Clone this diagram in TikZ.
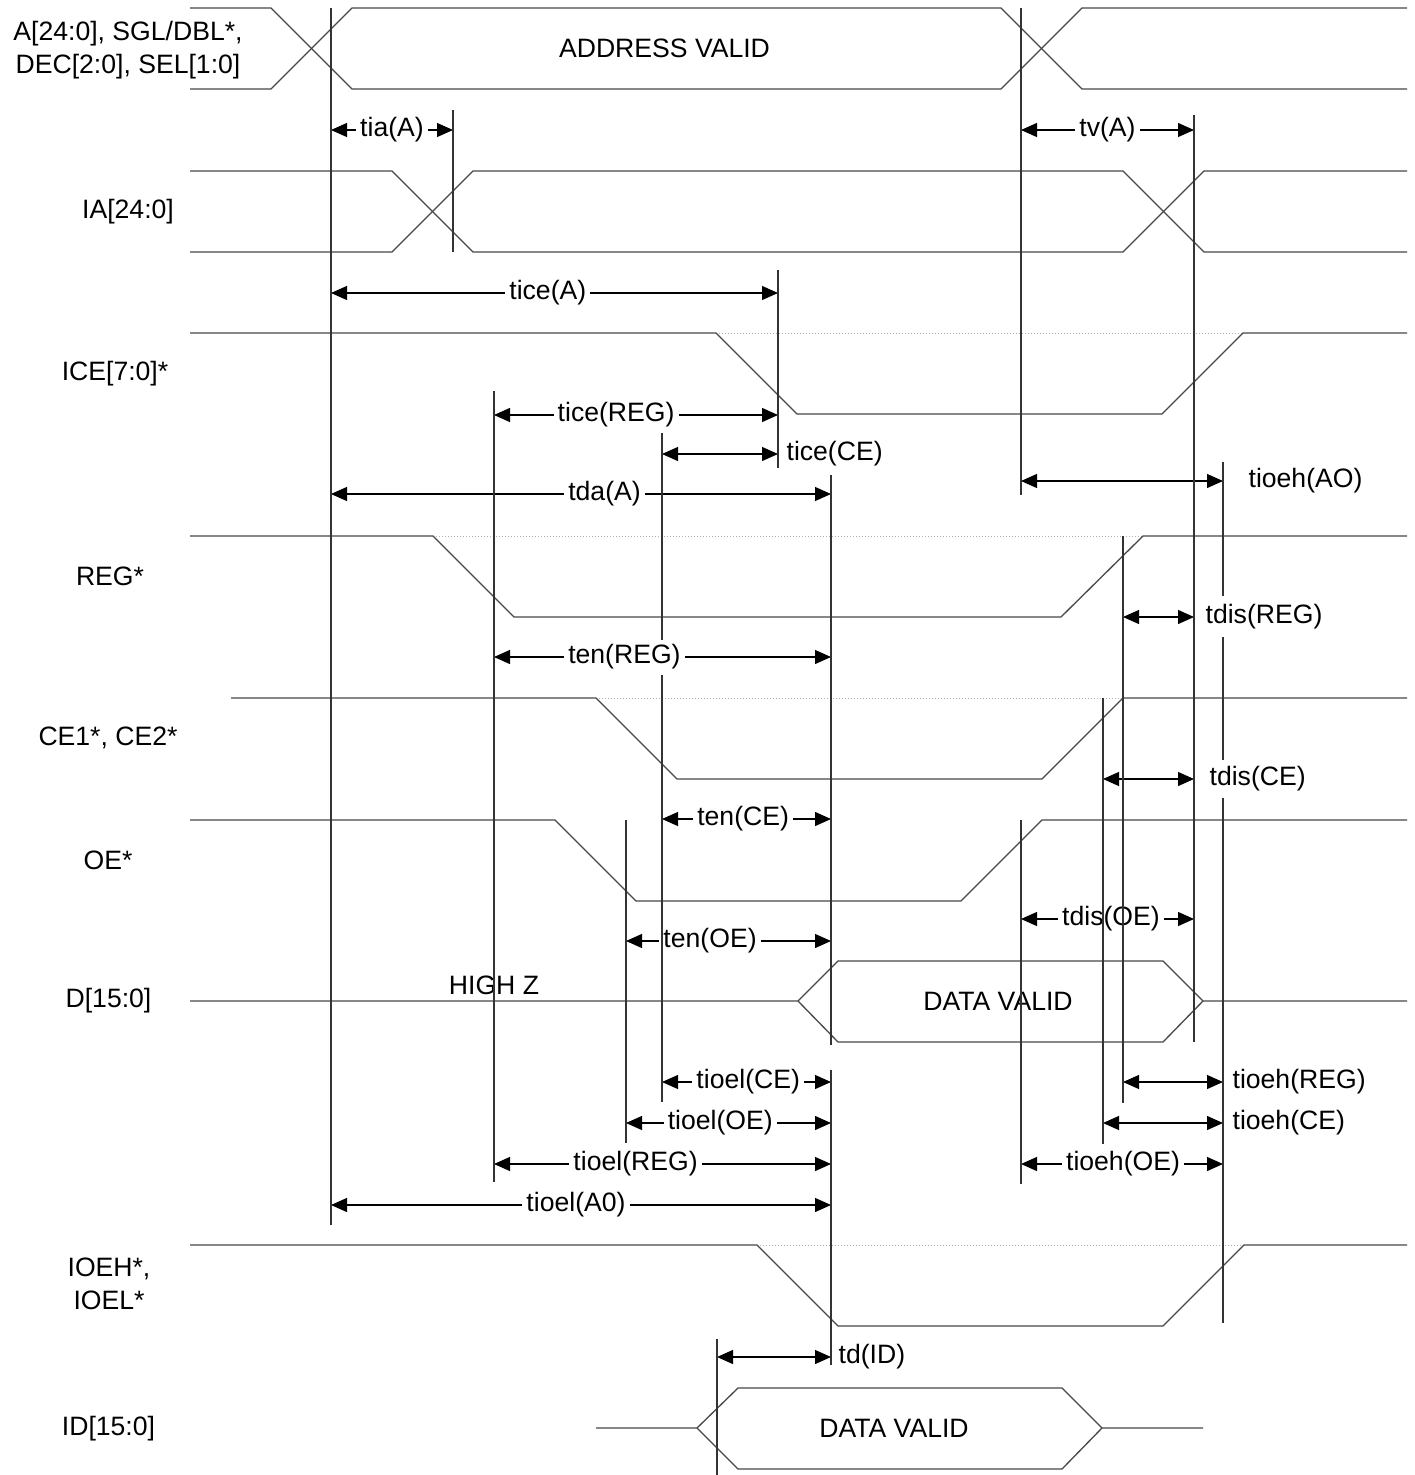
\documentclass[tikz,border=0pt]{standalone}
\usepackage{fontspec}
\setmainfont{Liberation Sans}
\usetikzlibrary{arrows.meta}
\begin{document}
\begin{tikzpicture}[x=1pt,y=-1pt,
		wave/.style={line width=1.3pt,black!72},
		held/.style={line width=0.9pt,black!30,dash pattern=on 1pt off 2pt},
		tline/.style={line width=1.2pt,black!80},
		dimarr/.style={line width=1.2pt,{Triangle[length=16pt,width=14pt]}-{Triangle[length=16pt,width=14pt]}},
		dimtag/.style={fill=white,inner xsep=4pt,inner ysep=1pt,font=\fontsize{26.6}{33}\selectfont},
		sidetag/.style={anchor=west,inner sep=0pt,font=\fontsize{26.6}{33}\selectfont},
		signame/.style={align=center,inner sep=0pt,font=\fontsize{26.6}{33}\selectfont}]
	\fill[white] (0,0) rectangle (1415,1475);
	\useasboundingbox (0,0) rectangle (1415,1475);

	\draw[wave] (190,8) -- (271,8) -- (352,89) -- (1001,89) -- (1082,8) -- (1407,8);
	\draw[wave] (190,89) -- (271,89) -- (352,8) -- (1001,8) -- (1082,89) -- (1407,89);
	\draw[wave] (190,171) -- (392,171) -- (473,252) -- (1123,252) -- (1204,171) -- (1407,171);
	\draw[wave] (190,252) -- (392,252) -- (473,171) -- (1123,171) -- (1204,252) -- (1407,252);
	\draw[held] (716,333) -- (1243,333);
	\draw[wave] (190,333) -- (716,333) -- (797,414) -- (1162,414) -- (1243,333) -- (1407,333);
	\draw[held] (433,536) -- (1143,536);
	\draw[wave] (190,536) -- (433,536) -- (514,617) -- (1061,617) -- (1143,536) -- (1407,536);
	\draw[held] (596,698) -- (1123,698);
	\draw[wave] (231,698) -- (596,698) -- (677,779) -- (1042,779) -- (1123,698) -- (1407,698);
	\draw[wave] (190,820) -- (555,820) -- (636,901) -- (961,901) -- (1042,820) -- (1407,820);
	\draw[wave] (190,1001) -- (798,1001) -- (838,961) -- (1163,961) -- (1203,1001) -- (1407,1001);
	\draw[wave] (798,1001) -- (838,1042) -- (1163,1042) -- (1203,1001);
	\draw[held] (757,1245) -- (1244,1245);
	\draw[wave] (190,1245) -- (757,1245) -- (838,1326) -- (1163,1326) -- (1244,1245) -- (1407,1245);
	\draw[wave] (596,1428) -- (697,1428) -- (738,1388) -- (1062,1388) -- (1102,1428) -- (1203,1428);
	\draw[wave] (697,1428) -- (738,1469) -- (1062,1469) -- (1102,1428);

	\node[signame] (addr) at (128,50) {A[24:0], SGL/DBL*,\\DEC[2:0], SEL[1:0]};
	\node[signame] (ia) at (128,212) {IA[24:0]};
	\node[signame] (ice) at (115,374) {ICE[7:0]*};
	\node[signame] (reg) at (110,576) {REG*};
	\node[signame] (ce) at (108,738) {CE1*, CE2*};
	\node[signame] (oe) at (108,860) {OE*};
	\node[signame] (d) at (108.5,1001) {D[15:0]};
	\node[signame] (ioe) at (109,1284) {IOEH*,\\IOEL*};
	\node[signame] (id) at (108.5,1429) {ID[15:0]};
	\node[signame] (addrvalid) at (664.5,48) {ADDRESS VALID};
	\node[signame] (highz) at (494,985) {HIGH Z};
	\node[signame] (dvalid) at (998,1001) {DATA VALID};
	\node[signame] (idvalid) at (894,1428) {DATA VALID};

	\draw[dimarr] (331,130) -- node[dimtag] (tia) {tia(A)} (453,130);
	\draw[dimarr] (1021,130) -- node[dimtag] (tv) {tv(A)} (1194,130);
	\draw[dimarr] (331,293) -- node[dimtag,pos=0.485] (ticea) {tice(A)} (778,293);
	\draw[dimarr] (494,415) -- node[dimtag,pos=0.43] (ticereg) {tice(REG)} (778,415);
	\draw[dimarr] (662,454) -- (778,454) node[sidetag,xshift=8pt] (ticece) {tice(CE)};
	\draw[dimarr] (331,494) -- node[dimtag,pos=0.547] (tdaa) {tda(A)} (831,494);
	\draw[dimarr] (1021,481) -- (1223,481) node[sidetag,xshift=25pt] (tioehao) {tioeh(AO)};
	\draw[dimarr] (1123,617) -- (1194,617) node[sidetag,xshift=11pt] (tdisreg) {tdis(REG)};
	\draw[dimarr] (494,657) -- node[dimtag,pos=0.387] (tenreg) {ten(REG)} (831,657);
	\draw[dimarr] (1103,779) -- (1194,779) node[sidetag,xshift=15pt] (tdisce) {tdis(CE)};
	\draw[dimarr] (662,819) -- node[dimtag,pos=0.48] (tence) {ten(CE)} (831,819);
	\draw[dimarr] (626,941) -- node[dimtag,pos=0.41] (tenoe) {ten(OE)} (831,941);
	\draw[dimarr] (1021,919) -- node[dimtag,pos=0.52] (tdisoe) {tdis(OE)} (1194,919);
	\draw[dimarr] (662,1082) -- node[dimtag,pos=0.51] (tioelce) {tioel(CE)} (831,1082);
	\draw[dimarr] (1123,1082) -- (1223,1082) node[sidetag,xshift=9pt] (tioehreg) {tioeh(REG)};
	\draw[dimarr] (626,1123) -- node[dimtag,pos=0.46] (tioeloe) {tioel(OE)} (831,1123);
	\draw[dimarr] (1103,1123) -- (1223,1123) node[sidetag,xshift=9pt] (tioehce) {tioeh(CE)};
	\draw[dimarr] (494,1164) -- node[dimtag,pos=0.42] (tioelreg) {tioel(REG)} (831,1164);
	\draw[dimarr] (1021,1164) -- node[dimtag,pos=0.505] (tioehoe) {tioeh(OE)} (1223,1164);
	\draw[dimarr] (331,1205) -- node[dimtag,pos=0.49] (tioela) {tioel(A0)} (831,1205);
	\draw[dimarr] (717,1357) -- (831,1357) node[sidetag,xshift=7pt] (tdid) {td(ID)};

	\draw[tline] (331,8) -- (331,1225);
	\draw[tline] (453,110) -- (453,252);
	\draw[tline] (1021,8) -- (1021,495);
	\draw[tline] (1021,820) -- (1021,1184);
	\draw[tline] (1194,115) -- (1194,1042);
	\draw[tline] (778,270) -- (778,468);
	\draw[tline] (494,391) -- (494,1182);
	\draw[tline] (662,433) -- (662,640);
	\draw[tline] (662,675) -- (662,1102);
	\draw[tline] (831,475) -- (831,1045);
	\draw[tline] (831,1070) -- (831,1365);
	\draw[tline] (1223,462) -- (1223,596);
	\draw[tline] (1223,637) -- (1223,760);
	\draw[tline] (1223,798) -- (1223,1323);
	\draw[tline] (1123,536) -- (1123,1103);
	\draw[tline] (1103,698) -- (1103,1144);
	\draw[tline] (626,820) -- (626,1143);
	\draw[tline] (717,1339) -- (717,1475);
\end{tikzpicture}
\end{document}
